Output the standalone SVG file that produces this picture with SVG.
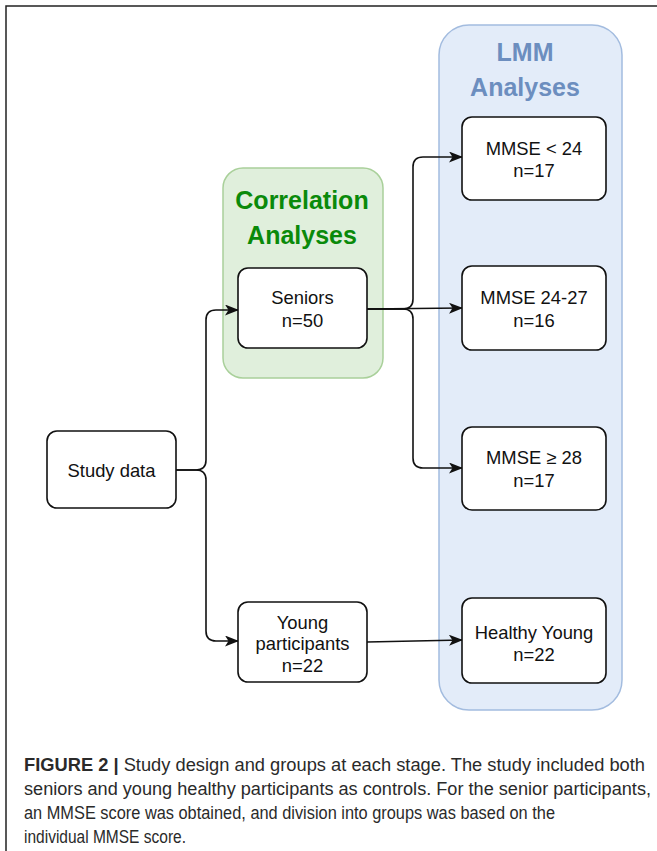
<svg xmlns="http://www.w3.org/2000/svg" width="657" height="851" viewBox="0 0 657 851">
<defs>
<style>
.frame{fill:none;stroke:#222;stroke-width:1.5}
.node{fill:#fff;stroke:#111;stroke-width:1.6}
.lbl{font-family:"Liberation Sans",Arial,sans-serif;font-size:18.4px;fill:#111;text-anchor:middle}
.ttl{font-family:"Liberation Sans",Arial,sans-serif;font-size:25px;font-weight:bold;text-anchor:middle}
.edge{fill:none;stroke:#111;stroke-width:1.6}
.cap{font-family:"Liberation Sans",Arial,sans-serif;font-size:17.5px;fill:#2a2a2a}
</style>
<marker id="arr" viewBox="0 0 14 11" refX="13" refY="5.5" markerWidth="14" markerHeight="11" markerUnits="userSpaceOnUse" orient="auto">
<path d="M0,0 L14,5.5 L0,11 L3.5,5.5 Z" fill="#111"/>
</marker>
</defs>
<rect width="657" height="851" fill="#fff"/>
<path class="frame" d="M6,851 V6 H657"/>

<g id="lmm-container">
<rect x="439" y="25" width="183" height="685" rx="30" fill="#e3ecf9" stroke="#a3bcdf" stroke-width="1.5"/>
<text class="ttl" x="525" y="61" fill="#6c8ebf">LMM</text>
<text class="ttl" x="525" y="96" fill="#6c8ebf">Analyses</text>
</g>

<g id="corr-container">
<rect x="223" y="168" width="160" height="210" rx="20" fill="#e0efdc" stroke="#a9d09a" stroke-width="1.5"/>
<text class="ttl" x="302" y="209" fill="#0a8a0a">Correlation</text>
<text class="ttl" x="302" y="244" fill="#0a8a0a">Analyses</text>
</g>

<g id="connectors">
<path class="edge" marker-end="url(#arr)" d="M176,470 H196 Q206,470 206,460 V320 Q206,310 216,310 H238"/>
<path class="edge" marker-end="url(#arr)" d="M176,470 H196 Q206,470 206,480 V631 Q206,641 216,641 H238"/>
<path class="edge" marker-end="url(#arr)" d="M367,309 H403 Q413,309 413,299 V167 Q413,157 423,157 H462"/>
<path class="edge" marker-end="url(#arr)" d="M367,309 L462,308"/>
<path class="edge" marker-end="url(#arr)" d="M367,309 H403 Q413,309 413,319 V458 Q413,468 423,468 H462"/>
<path class="edge" marker-end="url(#arr)" d="M367,642 L462,640"/>
</g>

<g id="study-data">
<rect class="node" x="47" y="431" width="129" height="77" rx="10"/>
<text class="lbl" x="111.5" y="476.5">Study data</text>
</g>

<g id="seniors">
<rect class="node" x="238" y="268" width="129" height="80" rx="10"/>
<text class="lbl" x="302.5" y="304">Seniors</text>
<text class="lbl" x="302.5" y="327">n=50</text>
</g>

<g id="young">
<rect class="node" x="238" y="602" width="129" height="80" rx="10"/>
<text class="lbl" x="302.5" y="628.5">Young</text>
<text class="lbl" x="302.5" y="650">participants</text>
<text class="lbl" x="302.5" y="671.5">n=22</text>
</g>

<g id="mmse-lt24">
<rect class="node" x="462" y="117" width="144" height="83" rx="10"/>
<text class="lbl" x="534" y="154.5">MMSE &lt; 24</text>
<text class="lbl" x="534" y="177">n=17</text>
</g>

<g id="mmse-24-27">
<rect class="node" x="462" y="266" width="144" height="84" rx="10"/>
<text class="lbl" x="534" y="303.5">MMSE 24-27</text>
<text class="lbl" x="534" y="326.5">n=16</text>
</g>

<g id="mmse-ge28">
<rect class="node" x="462" y="427" width="144" height="83" rx="10"/>
<text class="lbl" x="534" y="464">MMSE ≥ 28</text>
<text class="lbl" x="534" y="487">n=17</text>
</g>

<g id="healthy-young">
<rect class="node" x="462" y="598" width="144" height="85" rx="10"/>
<text class="lbl" x="534" y="638.5">Healthy Young</text>
<text class="lbl" x="534" y="660.5">n=22</text>
</g>

<g id="caption">
<text class="cap" x="24" y="771" textLength="621" lengthAdjust="spacingAndGlyphs"><tspan font-weight="bold">FIGURE 2 |</tspan> Study design and groups at each stage. The study included both</text>
<text class="cap" x="24" y="795" textLength="627" lengthAdjust="spacingAndGlyphs">seniors and young healthy participants as controls. For the senior participants,</text>
<text class="cap" x="24" y="819" textLength="531" lengthAdjust="spacingAndGlyphs">an MMSE score was obtained, and division into groups was based on the</text>
<text class="cap" x="24" y="843" textLength="162" lengthAdjust="spacingAndGlyphs">individual MMSE score.</text>
</g>
</svg>
